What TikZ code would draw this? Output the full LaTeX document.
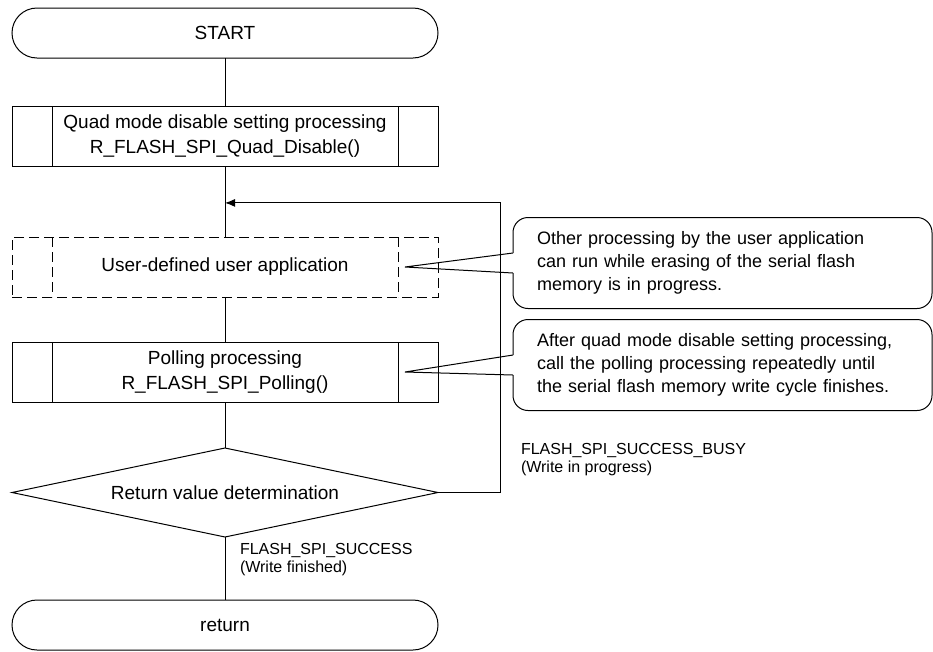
\documentclass[tikz,border=0pt]{standalone}
\usepackage{fontspec}
\setmainfont{Liberation Sans}
\usetikzlibrary{arrows,arrows.meta,calc,shapes,positioning}

\begin{document}
\begin{tikzpicture}[
        every node/.style={ font=\fontsize{19}{25}\selectfont, inner sep=0pt, outer sep=0pt },
        line width=1pt,
        node distance=48pt,
        term/.style={ draw, rounded corners=25pt, minimum width=426pt, minimum height=50pt },
        subproc/.style={ draw, minimum width=426pt, minimum height=60pt, align=center,
            path picture={
                \draw[line width=1pt, #1] ([xshift=40pt]path picture bounding box.north west) -- ([xshift=40pt]path picture bounding box.south west);
                \draw[line width=1pt, #1] ([xshift=-40pt]path picture bounding box.north east) -- ([xshift=-40pt]path picture bounding box.south east);
            } },
        subproc/.default=solid,
        cond/.style={ align=left, font=\fontsize{16}{18}\selectfont },
        note/.style={ draw, rounded corners=15pt, minimum height=91pt, text width=371pt, inner xsep=24pt, align=left, font=\fontsize{18}{23}\selectfont }
    ]
    \useasboundingbox (0,0) rectangle (933pt,-651pt);

    \node[term] (start) at (225pt,-33pt) {START};
    \node[subproc, below=48pt of start] (quad) {Quad mode disable setting processing\\R\_FLASH\_SPI\_Quad\_Disable()};
    \node[subproc={dash pattern=on 10pt off 5pt}, dash pattern=on 10pt off 5pt, below=71pt of quad] (app) {User-defined user application};
    \node[subproc, below=45pt of app] (poll) {Polling processing\\R\_FLASH\_SPI\_Polling()};
    \node[draw, diamond, aspect=4.8, minimum width=426pt, minimum height=89pt, below=46pt of poll] (dec) {Return value determination};
    \node[term, below=63pt of dec] (ret) {return};

    \node[note, right=75pt of app, yshift=4pt] (note1) {Other processing by the user application\\can run while erasing of the serial flash\\memory is in progress.};
    \node[note, right=75pt of poll, yshift=7pt] (note2) {After quad mode disable setting processing,\\call the polling processing repeatedly until\\the serial flash memory write cycle finishes.};

    \coordinate (join) at ($(quad.south)!0.52!(app.north)$);
    \coordinate (tip1) at ([xshift=-33pt]app.east);
    \coordinate (tip2) at ([xshift=-33pt]poll.east);

    \draw (start) -- (quad);
    \draw (quad) -- (app);
    \draw (app) -- (poll);
    \draw (poll) -- (dec);
    \draw (dec) -- (ret);
    \draw[-{Latex[length=10pt,width=8pt]}] (dec.east) -- ++(62pt,0) coordinate (loop) |- (join);

    \fill[white] ([xshift=-1pt,yshift=10pt]note1.west) rectangle ([xshift=1pt,yshift=-10pt]note1.west);
    \draw ([yshift=10pt]note1.west) -- (tip1) -- ([yshift=-10pt]note1.west);
    \fill[white] ([xshift=-1pt,yshift=10pt]note2.west) rectangle ([xshift=1pt,yshift=-10pt]note2.west);
    \draw ([yshift=10pt]note2.west) -- (tip2) -- ([yshift=-10pt]note2.west);

    \node[cond, anchor=south west] (busy) at ([xshift=21pt,yshift=17pt]loop) {FLASH\_SPI\_SUCCESS\_BUSY\\(Write in progress)};
    \node[cond, anchor=north west] (done) at ([xshift=15pt,yshift=-6pt]dec.south) {FLASH\_SPI\_SUCCESS\\(Write finished)};
\end{tikzpicture}
\end{document}
